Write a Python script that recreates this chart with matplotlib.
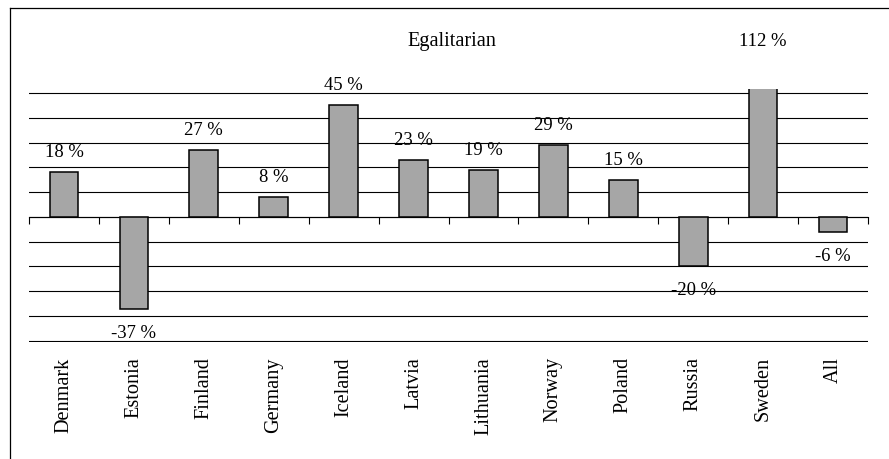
import matplotlib
matplotlib.use("Agg")
import matplotlib.pyplot as plt
import matplotlib.transforms as mtransforms
from matplotlib.lines import Line2D

plt.rcParams['font.family'] = ['Liberation Serif', 'DejaVu Serif']

categories = ["Denmark", "Estonia", "Finland", "Germany", "Iceland", "Latvia",
              "Lithuania", "Norway", "Poland", "Russia", "Sweden", "All"]
values = [18, -37, 27, 8, 45, 23, 19, 29, 15, -20, 112, -6]
value_labels = ["18 %", "-37 %", "27 %", "8 %", "45 %", "23 %", "19 %",
                "29 %", "15 %", "-20 %", "112 %", "-6 %"]
title = "Egalitarian"
grid_values = list(range(-50, 51, 10))

W, H = 889, 459
fig = plt.figure(figsize=(W / 100, H / 100), dpi=100)

ymin, ymax = -50.5, 51.6
ax_left, ax_right = 29 / W, 868 / W
ax_bottom, ax_top = 1 - 342 / H, 1 - 89 / H
ax = fig.add_axes([ax_left, ax_bottom, ax_right - ax_left, ax_top - ax_bottom])

x = list(range(len(categories)))
ax.bar(x, values, width=0.41, color='#a6a6a6', edgecolor='black', linewidth=1.1, zorder=3)

ax.set_xlim(-0.5, len(categories) - 0.5)
ax.set_ylim(ymin, ymax)
ax.set_yticks(grid_values)
ax.yaxis.grid(True, color='black', linewidth=0.8)
ax.set_axisbelow(True)
ax.tick_params(axis='y', length=0, labelleft=False)
for s in ax.spines.values():
    s.set_visible(False)

ax.set_xticks(x)
ax.set_xticklabels(categories, rotation=90, fontsize=14.6)
ax.tick_params(axis='x', length=0, pad=11)

# zero axis line with boundary ticks
sec = ax.secondary_xaxis(0, transform=ax.transData)
sec.set_xticks([i - 0.5 for i in range(len(categories) + 1)])
sec.set_xticklabels([])
sec.tick_params(axis='x', direction='out', length=5, width=0.8, color='black')
sec.spines['bottom'].set_linewidth(0.8)
sec.spines['bottom'].set_color('black')

# value labels
top_trans = mtransforms.blended_transform_factory(ax.transData, ax.transAxes)
title_pad_frac = 1 + 43 / (342 - 89)
for i, (v, lab) in enumerate(zip(values, value_labels)):
    if v > ymax:
        ax.text(i, title_pad_frac, lab, transform=top_trans, ha='center',
                va='baseline', fontsize=13.4, clip_on=False)
    elif v >= 0:
        ax.annotate(lab, xy=(i, v), xytext=(0, 10.8), textcoords='offset points',
                    ha='center', va='baseline', fontsize=13.4, zorder=4)
    else:
        ax.annotate(lab, xy=(i, v), xytext=(0, -20.9), textcoords='offset points',
                    ha='center', va='baseline', fontsize=13.4, zorder=4)

ax.text(0.504, title_pad_frac, title, transform=ax.transAxes, ha='center',
        va='baseline', fontsize=14.6)

# outer frame (left and top edges visible)
x0 = 10 / W
y0 = 1 - 8 / H
fig.add_artist(Line2D([x0, x0], [0, y0], color='black', linewidth=0.9))
fig.add_artist(Line2D([x0, 1], [y0, y0], color='black', linewidth=0.9))

fig.savefig("out.png", dpi=100)
